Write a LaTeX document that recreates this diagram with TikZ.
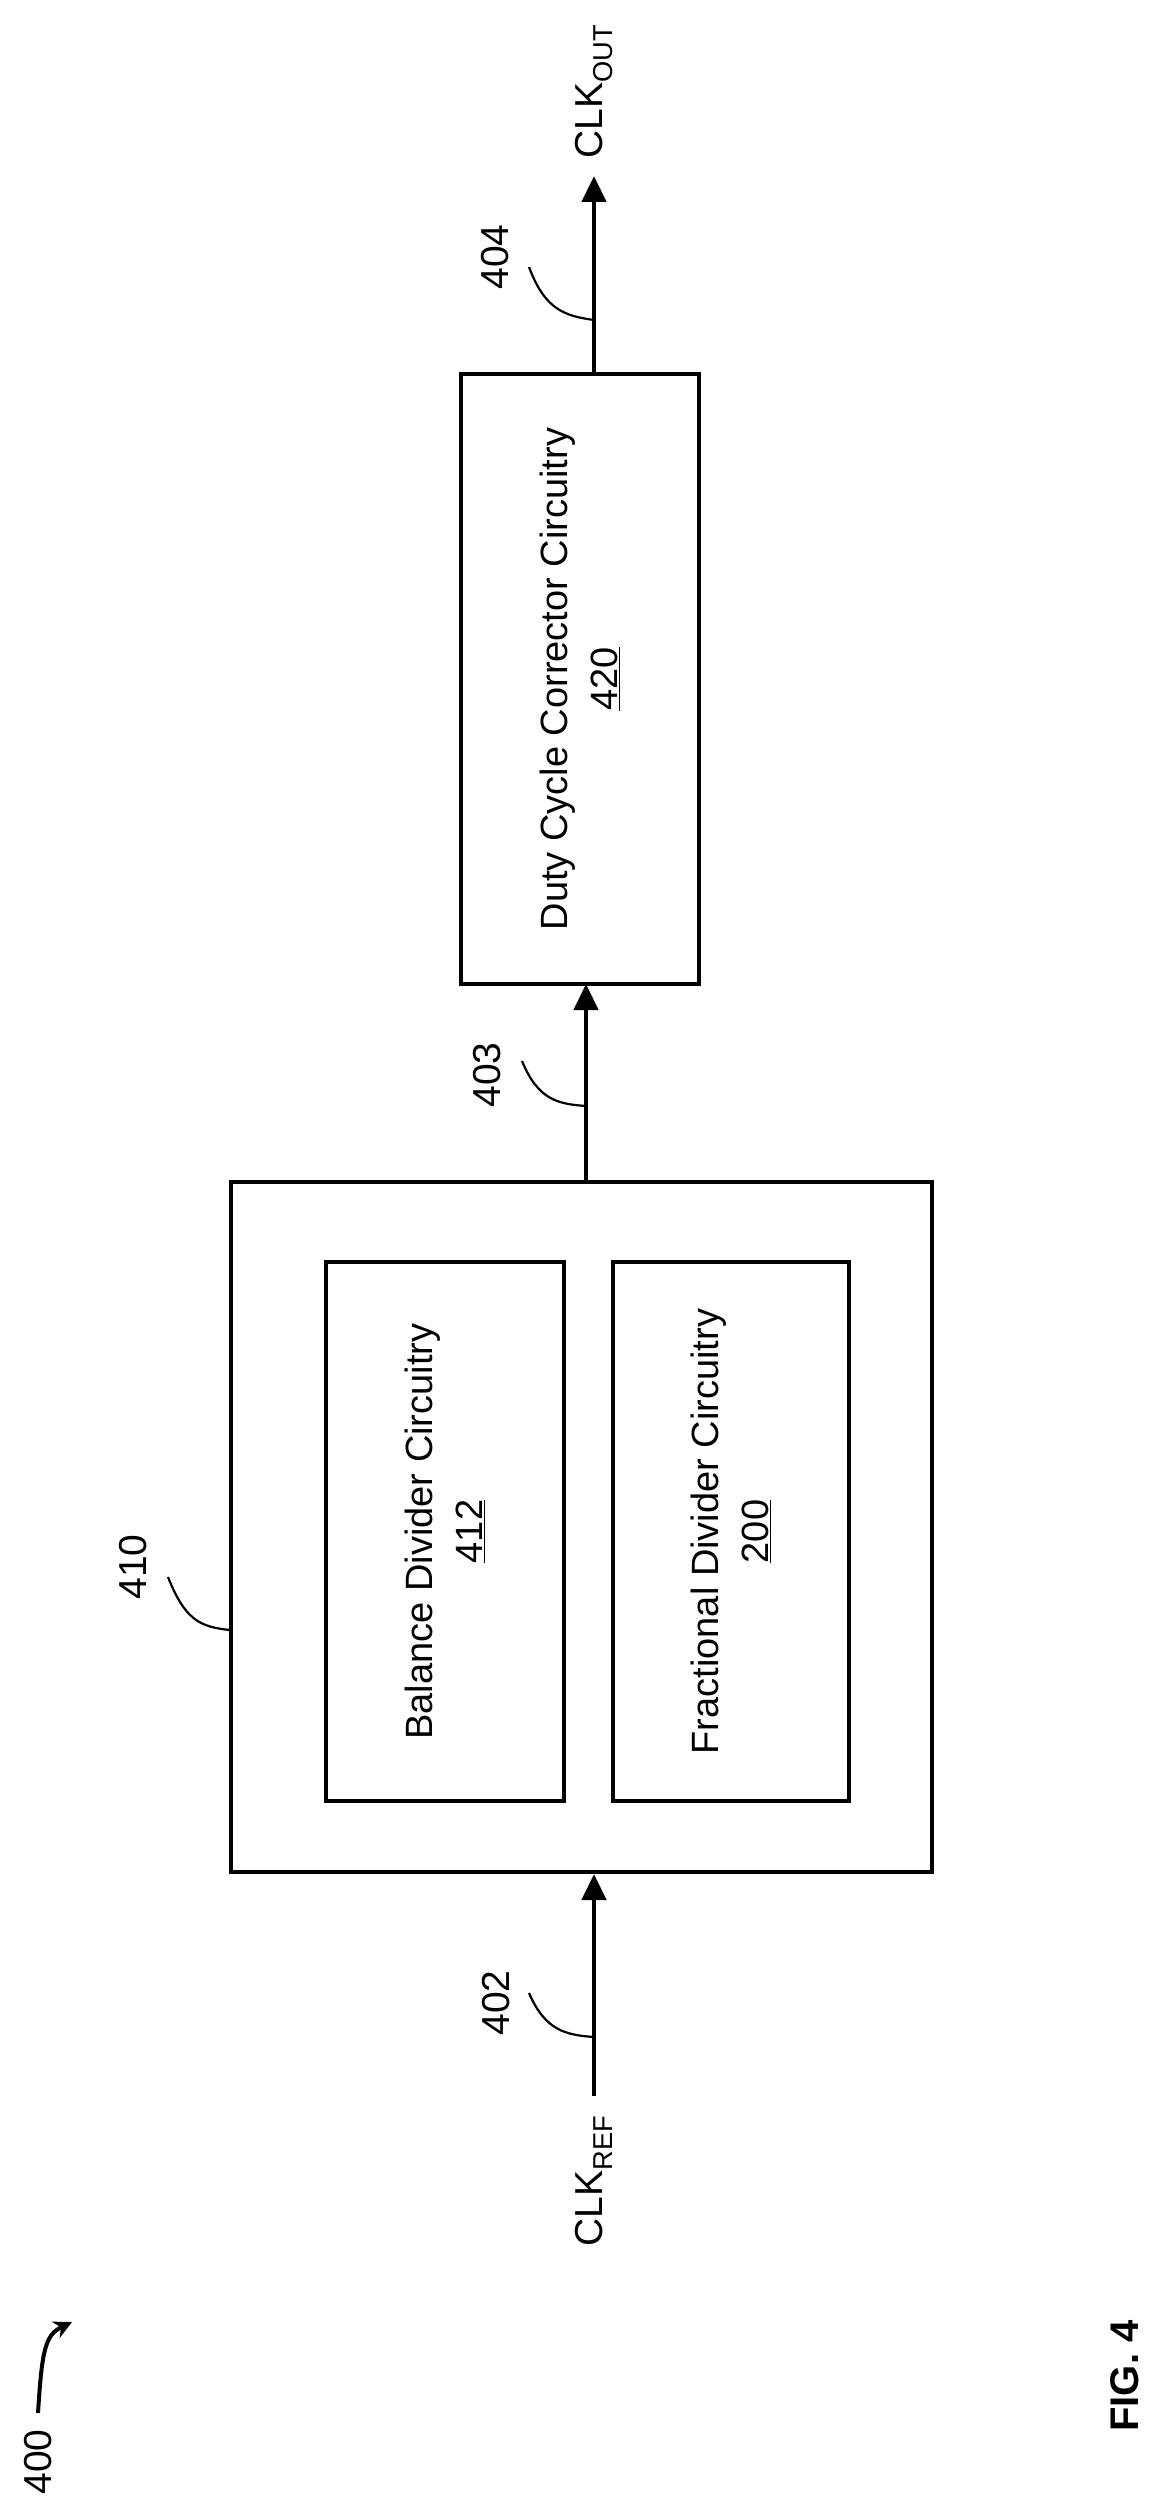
\documentclass[tikz,border=0pt]{standalone}
\usepackage{fontspec}
\setmainfont{Liberation Sans}
\usetikzlibrary{arrows.meta}
\begin{document}
\begin{tikzpicture}[x=1pt,y=-1pt,
  box/.style={draw,line width=4pt},
  wire/.style={line width=4.5pt,-{Triangle[length=26pt,width=24pt]}},
  lead/.style={line width=2.2pt},
  txt/.style={rotate=90,font=\fontsize{38}{46}\selectfont,align=center},
  lbl/.style={rotate=90,font=\fontsize{39}{46}\selectfont}]
\useasboundingbox (0,0) rectangle (1172,2515);
\node[box,minimum width=701pt,minimum height=690pt] (outer) at (581,1527) {};
\node[box,txt,minimum width=539pt,minimum height=238pt] (bal) at (445,1531.5) {Balance Divider Circuitry\\[4pt]\underline{412}};
\node[box,txt,minimum width=539pt,minimum height=236pt] (frac) at (731,1531.5) {Fractional Divider Circuitry\\[4pt]\underline{200}};
\node[box,txt,minimum width=610pt,minimum height=238pt] (dcc) at (580,679) {Duty Cycle Corrector Circuitry\\[4pt]\underline{420}};
\node[lbl,anchor=east] (clkref) at (594,2112) {CLK\textsubscript{REF}};
\node[lbl,anchor=west] (clkout) at (594,162) {CLK\textsubscript{OUT}};
\coordinate (refstart) at (594,2096);
\coordinate (outtip) at (594,176);
\draw[wire] (refstart) -- (refstart|-outer.south);
\draw[wire] (586,1182) -- (586,984);
\draw[wire] (594,374) -- (outtip);
\node[lbl] (l402) at (496,2003) {402};
\node[lbl] (l403) at (487,1075) {403};
\node[lbl] (l404) at (495,257) {404};
\node[lbl] (l410) at (133,1567) {410};
\node[lbl] (l400) at (38,2462) {400};
\node[rotate=90,font=\bfseries\fontsize{40}{48}\selectfont] (fig) at (1125,2376) {FIG. 4};
\draw[lead] (529,1993) .. controls (545,2030) and (565,2035) .. (594,2037);
\draw[lead] (522,1061) .. controls (538,1100) and (558,1104) .. (586,1106);
\draw[lead] (529,267) .. controls (545,310) and (565,316) .. (594,320);
\draw[lead] (168,1577) .. controls (185,1620) and (200,1627) .. (230,1630);
\draw[line width=4pt,-{Stealth[length=18pt,width=18pt]}] (38,2413) .. controls (42,2350) and (45,2335) .. (72,2322);
\end{tikzpicture}
\end{document}
